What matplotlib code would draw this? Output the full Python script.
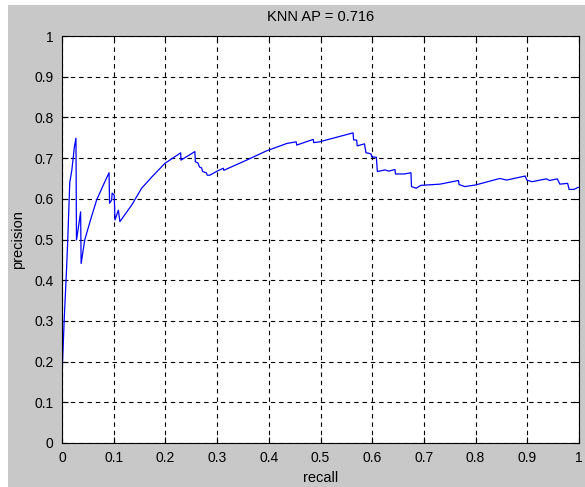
import matplotlib
matplotlib.use("Agg")
import matplotlib.pyplot as plt
from matplotlib.patches import Rectangle

recall = [0.000, 0.000, 0.0005, 0.0045, 0.009, 0.011, 0.015, 0.019, 0.024, 0.027,
          0.028, 0.031, 0.036, 0.037, 0.044, 0.057, 0.067, 0.080, 0.091, 0.092,
          0.096, 0.097, 0.101, 0.1025, 0.109, 0.112, 0.135, 0.154, 0.174, 0.199,
          0.2296, 0.2300, 0.257, 0.258, 0.263, 0.266, 0.270, 0.272, 0.279, 0.281,
          0.286, 0.300, 0.312, 0.313, 0.357, 0.396, 0.435, 0.453, 0.454, 0.486,
          0.487, 0.498, 0.563, 0.564, 0.570, 0.571, 0.585, 0.588, 0.593, 0.598,
          0.599, 0.608, 0.610, 0.625, 0.632, 0.644, 0.645, 0.662, 0.675, 0.676,
          0.685, 0.694, 0.731, 0.767, 0.768, 0.779, 0.800, 0.847, 0.860, 0.896,
          0.899, 0.909, 0.937, 0.943, 0.958, 0.963, 0.978, 0.981, 0.990, 0.998, 1.000]
precision = [0.000, 0.060, 0.180, 0.310, 0.433, 0.495, 0.640, 0.670, 0.728, 0.749,
             0.499, 0.523, 0.568, 0.441, 0.499, 0.556, 0.597, 0.634, 0.664, 0.589,
             0.597, 0.614, 0.609, 0.548, 0.572, 0.544, 0.585, 0.626, 0.654, 0.687,
             0.713, 0.695, 0.716, 0.691, 0.688, 0.678, 0.676, 0.667, 0.664, 0.658,
             0.658, 0.668, 0.675, 0.670, 0.695, 0.718, 0.736, 0.740, 0.732, 0.746,
             0.738, 0.740, 0.762, 0.745, 0.744, 0.730, 0.735, 0.713, 0.712, 0.710,
             0.703, 0.702, 0.667, 0.671, 0.668, 0.672, 0.661, 0.661, 0.664, 0.630,
             0.626, 0.633, 0.636, 0.645, 0.635, 0.630, 0.634, 0.650, 0.646, 0.656,
             0.646, 0.642, 0.649, 0.645, 0.649, 0.636, 0.638, 0.623, 0.623, 0.628, 0.628]

ticks = [0, 0.1, 0.2, 0.3, 0.4, 0.5, 0.6, 0.7, 0.8, 0.9, 1]
tick_labels = ["0", "0.1", "0.2", "0.3", "0.4", "0.5", "0.6", "0.7", "0.8", "0.9", "1"]

W, H = 585, 487
plt.rcParams['font.family'] = ['Liberation Sans', 'DejaVu Sans']
fig = plt.figure(figsize=(W / 100, H / 100), dpi=100, facecolor='white')
fig.patches.append(Rectangle((8 / W, 0), 1 - 8 / W, 1 - 5 / H, transform=fig.transFigure,
                             facecolor='#c8c8c8', edgecolor='none', zorder=-10))
ax = fig.add_axes([62 / W, (H - 443) / H, 517 / W, 407 / H])
ax.set_facecolor('white')
ax.plot(recall, precision, color='#0000ff', linewidth=0.9)
ax.set_xlim(0, 1)
ax.set_ylim(0, 1)
ax.set_xticks(ticks)
ax.set_xticklabels(tick_labels)
ax.set_yticks(ticks)
ax.set_yticklabels(tick_labels)
ax.tick_params(direction='in', top=True, right=True, labelsize=10, length=4, width=0.8)
ax.tick_params(axis='x', pad=6)
ax.tick_params(axis='y', pad=6)
ax.grid(True, color='black', linestyle=(0, (4, 3.5)), linewidth=0.8)
for s in ax.spines.values():
    s.set_linewidth(0.8)
fig.text((62 + 517 / 2) / W, 1 - 17 / H, "KNN AP = 0.716", fontsize=10.5,
         ha='center', va='center')
ax.set_xlabel("recall", fontsize=10.5)
ax.xaxis.set_label_coords(0.5, (443 - 478) / 407)
ax.xaxis.label.set_va('center')
ax.set_ylabel("precision", fontsize=10.5)
ax.yaxis.set_label_coords((18 - 62) / 517, 0.5)
ax.yaxis.label.set_va('center')
fig.savefig("out.png", dpi=100, facecolor=fig.get_facecolor())
